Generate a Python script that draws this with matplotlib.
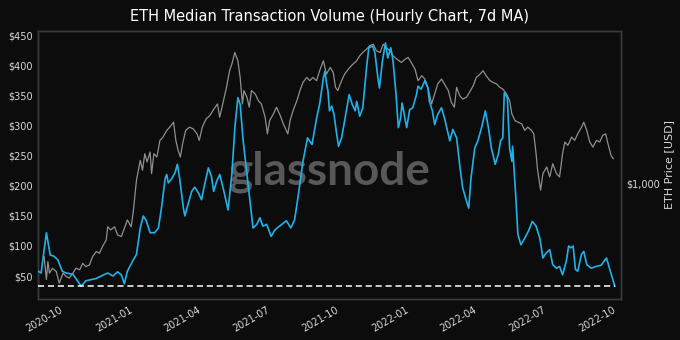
import numpy as np
import pandas as pd
import matplotlib
matplotlib.use("Agg")
import matplotlib.pyplot as plt
import matplotlib.dates as mdates
from matplotlib.ticker import FixedLocator, NullLocator, FuncFormatter

# days are counted from 2020-10-01
base_date = pd.Timestamp("2020-10-01")

vol_days = [-35, -31, -24, -19, -14, -9, -3, 2, 11, 17, 22, 28, 42, 50, 57, 64, 70, 75, 79, 83,
            90, 95, 100, 104, 108, 113, 119, 124, 128, 133, 135, 137, 141, 146, 149, 152, 157, 159,
            163, 168, 172, 177, 181, 185, 190, 194, 197, 201, 205, 210, 216, 221, 225, 229, 232,
            236, 240, 245, 249, 254, 258, 262, 267, 273, 278, 284, 293, 299, 304, 309, 315, 321,
            327, 333, 337, 342, 344, 346, 348, 350, 353, 356, 359, 362, 366, 370, 376, 380, 384,
            386, 390, 394, 399, 402, 407, 410, 414, 416, 420, 424, 427, 431, 434, 438, 441, 444,
            446, 450, 452, 456, 460, 465, 467, 471, 476, 480, 482, 486, 489, 493, 498, 502, 507,
            509, 513, 518, 522, 526, 531, 534, 537, 542, 546, 551, 556, 560, 564, 569, 573, 576,
            579, 581, 585, 588, 591, 592, 596, 599, 603, 608, 613, 618, 623, 628, 632, 636, 641,
            645, 650, 654, 658, 663, 666, 669, 672, 675, 678, 683, 686, 690, 696, 702, 709, 716,
            720, 727]
vol_usd = [58, 55, 122, 85, 83, 77, 58, 55, 53, 42, 33, 42, 46, 51, 55, 50, 57, 52, 37, 58,
           75, 86, 130, 150, 142, 122, 122, 130, 163, 213, 219, 205, 211, 222, 236, 213, 163, 150,
           169, 191, 198, 188, 177, 202, 230, 216, 191, 208, 219, 194, 160, 219, 297, 347, 336,
           275, 230, 175, 130, 136, 147, 133, 136, 116, 127, 133, 142, 130, 144, 186, 241, 280,
           269, 313, 336, 380, 391, 372, 358, 325, 333, 319, 291, 266, 280, 308, 352, 336, 325,
           341, 316, 330, 397, 430, 433, 422, 380, 363, 408, 438, 413, 430, 408, 352, 297, 313,
           338, 311, 297, 327, 330, 352, 366, 361, 375, 363, 341, 325, 302, 319, 330, 313, 286,
           275, 294, 280, 236, 197, 175, 163, 213, 263, 275, 297, 325, 297, 263, 236, 252, 275,
           280, 355, 347, 263, 241, 266, 186, 119, 102, 113, 125, 141, 133, 113, 80, 88, 94,
           69, 63, 66, 52, 75, 100, 97, 100, 61, 58, 86, 91, 69, 63, 66, 68, 80,
           63, 33]

price_days = [-27, -24, -22, -20, -16, -11, -7, -2, 2, 6, 11, 15, 20, 24, 28, 33, 37, 42, 46, 50,
              55, 57, 61, 66, 70, 75, 79, 83, 88, 91, 95, 100, 103, 106, 109, 113, 115, 118, 122,
              126, 130, 135, 139, 144, 147, 150, 153, 156, 160, 165, 170, 175, 178, 182, 187, 192,
              196, 202, 205, 210, 214, 218, 221, 225, 229, 232, 235, 237, 241, 244, 247, 252, 256,
              260, 265, 268, 271, 276, 280, 285, 289, 295, 298, 302, 307, 311, 315, 320, 324, 328,
              333, 337, 342, 346, 351, 355, 358, 361, 366, 370, 375, 381, 386, 390, 394, 399, 403,
              408, 412, 417, 421, 425, 430, 434, 439, 445, 450, 454, 458, 463, 467, 472, 476, 480,
              485, 489, 493, 498, 502, 507, 511, 515, 518, 522, 526, 531, 535, 540, 544, 549, 553,
              557, 562, 566, 571, 575, 579, 584, 588, 591, 595, 599, 604, 608, 612, 617, 620, 623,
              625, 629, 632, 637, 641, 645, 650, 654, 658, 661, 665, 670, 674, 678, 683, 686, 690,
              694, 698, 703, 707, 711, 715, 718, 722, 725]
price_usd = [442, 342, 418, 367, 388, 374, 328, 367, 354, 347, 367, 388, 381, 410, 395, 403, 442,
             468, 459, 494, 533, 618, 596, 618, 564, 553, 607, 667, 618, 745, 1042, 1303, 1166,
             1403, 1279, 1430, 1122, 1403, 1352, 1630, 1691, 1823, 1891, 2000, 1630, 1458, 1352,
             1570, 1823, 1891, 1855, 1754, 1630, 1891, 2075, 2154, 2280, 2454, 2115, 2548, 2958,
             3564, 3837, 4374, 3985, 3306, 2454, 2851, 2645, 2365, 2851, 2743, 2548, 2454, 2115,
             1754, 2038, 2195, 2365, 2154, 1962, 1754, 2038, 2280, 2548, 2851, 3126, 3306, 3187,
             3306, 3187, 3564, 3985, 3430, 3698, 3497, 2958, 2851, 3187, 3430, 3630, 3837, 3985,
             4215, 4374, 4539, 4713, 4798, 4458, 4374, 4798, 4624, 4458, 4215, 4057, 3910, 4057,
             4138, 3910, 3630, 3187, 3371, 3245, 2958, 2454, 2743, 3069, 3245, 3069, 2851, 2500,
             2365, 2958, 2696, 2594, 2645, 2797, 3013, 3306, 3430, 3564, 3371, 3187, 3126, 3069,
             2958, 2903, 2743, 2548, 2195, 2038, 2000, 1962, 1823, 1891, 1823, 1754, 1403, 1166,
             932, 1122, 1209, 1081, 1254, 1122, 1081, 1403, 1599, 1541, 1691, 1630, 1754, 1891,
             2000, 1823, 1599, 1512, 1630, 1599, 1723, 1754, 1570, 1378, 1327]

bg = "#0c0c0c"
blue = "#1fb2ea"
gray = "#8f8f8f"
txt = "#d8d8d8"

vol_dates = base_date + pd.to_timedelta(vol_days, unit="D")
price_dates = base_date + pd.to_timedelta(price_days, unit="D")

fig = plt.figure(figsize=(6.8, 3.4), dpi=100, facecolor=bg)
ax = fig.add_axes([0.056, 0.121, 0.857, 0.788])
ax2 = ax.twinx()

ax2.set_facecolor(bg)
ax.set_zorder(ax2.get_zorder() + 1)
ax.patch.set_visible(False)

# price on log scale (right)
ax2.plot(price_dates, price_usd, color=gray, lw=0.9, zorder=2)
ax2.set_yscale("log")
ax2.set_ylim(275, 5570)
ax2.yaxis.set_major_locator(FixedLocator([1000]))
ax2.yaxis.set_minor_locator(NullLocator())
ax2.yaxis.set_major_formatter(FuncFormatter(lambda v, p: "${:,.0f}".format(v)))
ax2.set_ylabel("ETH Price [USD]", color=txt, fontsize=8, labelpad=3)

# watermark
ax2.text(0.5, 0.475, "glassnode", transform=ax2.transAxes, ha="center", va="center",
         fontsize=33, color="#585858", family="Lato", weight="bold", zorder=1)

# volume (left)
ax.plot(vol_dates, vol_usd, color=blue, lw=1.2, zorder=3)
ax.hlines(vol_usd[-1], vol_dates[0], vol_dates[-1], colors="white", linestyles=(0, (4, 2.5)),
          lw=1.1, zorder=4)
ax.set_ylim(12, 458)
ax.set_yticks([50, 100, 150, 200, 250, 300, 350, 400, 450])
ax.yaxis.set_major_formatter(FuncFormatter(lambda v, p: "${:.0f}".format(v)))

ax.set_xlim(base_date + pd.Timedelta(days=-35), base_date + pd.Timedelta(days=735))
ax.xaxis.set_major_locator(mdates.MonthLocator(bymonth=[1, 4, 7, 10]))
ax.xaxis.set_major_formatter(mdates.DateFormatter("%Y-%m"))
for lbl in ax.get_xticklabels():
    lbl.set_rotation(30)
    lbl.set_ha("right")

for a in (ax, ax2):
    a.tick_params(colors=txt, labelsize=7, length=0, pad=4)
    for s in a.spines.values():
        s.set_color("#3a3a3a")
        s.set_linewidth(1.0)

ax.set_title("ETH Median Transaction Volume (Hourly Chart, 7d MA)", color="white",
             fontsize=10.5, pad=7)

fig.savefig("out.png", dpi=100, facecolor=bg)
